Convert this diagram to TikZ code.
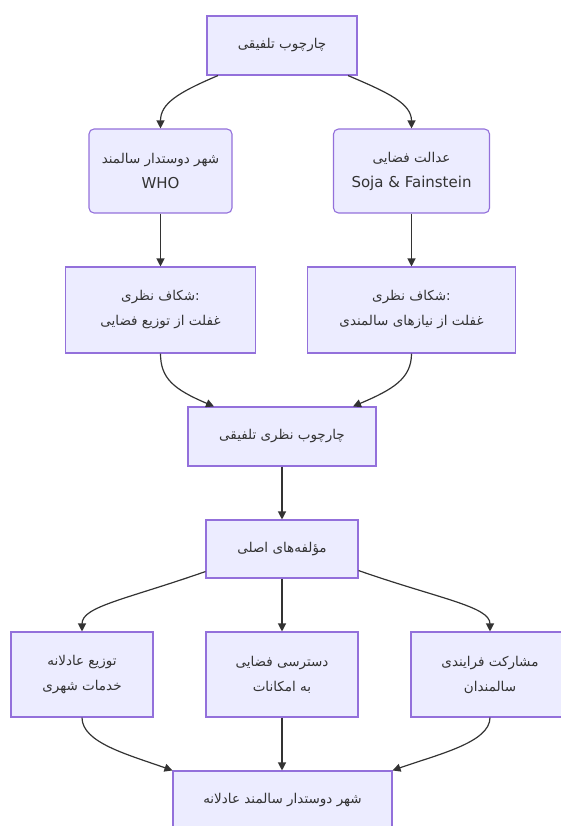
\documentclass[tikz,border=0pt]{standalone}
\usepackage{fontspec}
\setmainfont{DejaVu Sans}
\newfontfamily\arabicfont[Script=Arabic]{DejaVu Sans}
\TeXXeTstate=1
\usetikzlibrary{calc,arrows.meta}
\definecolor{boxfill}{HTML}{ECECFF}
\definecolor{boxline}{HTML}{9370DB}
\definecolor{txt}{HTML}{333333}
\newcommand{\fa}[1]{{\arabicfont\beginR #1\endR}}
\newcommand{\la}[1]{{\fontspec{DejaVu Sans}\fontsize{15}{25}\selectfont #1}}
\begin{document}
\begin{tikzpicture}[x=1pt,y=-1pt,
  box/.style={draw=boxline,fill=boxfill,line width=1.1pt,inner sep=0pt,
    align=center,text=txt,font=\arabicfont\fontsize{13.5}{25}\selectfont},
  rbox/.style={box,rounded corners=5pt},
  link/.style={draw=txt,line width=1.2pt,-{Triangle[length=8pt,width=8pt]}}]
\useasboundingbox (0,0) rectangle (561,826);
\clip (0,0) rectangle (561,826);
\node[box,minimum width=150pt,minimum height=59pt] (top) at (282,45.5) {\fa{چارچوب تلفیقی}};
\node[rbox,minimum width=143pt,minimum height=84pt] (who) at (160.5,171) {\fa{شهر دوستدار سالمند}\\\la{WHO}};
\node[rbox,minimum width=156pt,minimum height=84pt] (soja) at (411.5,171) {\fa{عدالت فضایی}\\\la{Soja \& Fainstein}};
\node[box,minimum width=190pt,minimum height=86pt] (gapL) at (160.5,310) {\fa{:شکاف نظری}\\\fa{غفلت از توزیع فضایی}};
\node[box,minimum width=208pt,minimum height=86pt] (gapR) at (411.5,310) {\fa{:شکاف نظری}\\\fa{غفلت از نیازهای سالمندی}};
\node[box,minimum width=188pt,minimum height=59pt] (mid) at (282,436.5) {\fa{چارچوب نظری تلفیقی}};
\node[box,minimum width=152pt,minimum height=58pt] (comp) at (282,549) {\fa{مؤلفه‌های اصلی}};
\node[box,minimum width=142pt,minimum height=85pt] (b1) at (82,674.5) {\fa{توزیع عادلانه}\\\fa{خدمات شهری}};
\node[box,minimum width=152pt,minimum height=85pt] (b2) at (282,674.5) {\fa{دسترسی فضایی}\\\fa{به امکانات}};
\node[box,minimum width=158pt,minimum height=85pt] (b3) at (490,674.5) {\fa{مشارکت فرایندی}\\\fa{سالمندان}};
\node[box,minimum width=219pt,minimum height=59pt] (fin) at (282.5,800.5) {\fa{شهر دوستدار سالمند عادلانه}};
% edges
\coordinate (s1) at ($(top.south)+(-64,0)$);
\coordinate (s2) at ($(top.south)+(66,0)$);
\draw[link] (s1) .. controls ($(s1)+(-40,17)$) and ($(who.north)+(0,-25)$) .. (who.north);
\draw[link] (s2) .. controls ($(s2)+(40,17)$) and ($(soja.north)+(0,-25)$) .. (soja.north);
\draw[link] (who.south) -- (gapL.north);
\draw[link] (soja.south) -- (gapR.north);
\coordinate (e1) at ($(mid.north)+(-68,0)$);
\coordinate (e2) at ($(mid.north)+(71,0)$);
\draw[link] (gapL.south) .. controls ($(gapL.south)+(0,25)$) and ($(e1)+(-40,-17)$) .. (e1);
\draw[link] (gapR.south) .. controls ($(gapR.south)+(0,25)$) and ($(e2)+(40,-17)$) .. (e2);
\draw[link] (mid.south) -- (comp.north);
\coordinate (c1) at ($(comp.south west)+(0,-7)$);
\coordinate (c3) at ($(comp.south east)+(0,-8)$);
\draw[link] (c1) .. controls ($(c1)+(-80,28)$) and ($(b1.north)+(0,-25)$) .. (b1.north);
\draw[link] (comp.south) -- (b2.north);
\draw[link] (c3) .. controls ($(c3)+(80,28)$) and ($(b3.north)+(0,-25)$) .. (b3.north);
\draw[link] (b1.south) .. controls ($(b1.south)+(0,25)$) and ($(fin.north west)+(-45,-16)$) .. (fin.north west);
\draw[link] (b2.south) -- (b2.south |- fin.north);
\draw[link] (b3.south) .. controls ($(b3.south)+(0,25)$) and ($(fin.north east)+(45,-16)$) .. (fin.north east);
\end{tikzpicture}
\end{document}
